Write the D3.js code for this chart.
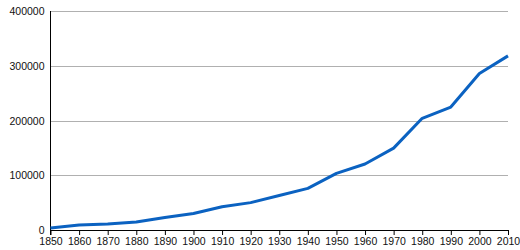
<!DOCTYPE html>
<html>
<head>
<meta charset="utf-8">
<title>Population</title>
<script src="https://d3js.org/d3.v7.min.js"></script>
<style>
  body { margin: 0; background: #fff; }
  text { font-family: "Liberation Sans", Arial, sans-serif; font-size: 10.5px; fill: #111; }
</style>
</head>
<body>
<svg id="chart" width="520" height="250"></svg>
<script>
// data
var years = [1850, 1860, 1870, 1880, 1890, 1900, 1910, 1920, 1930, 1940, 1950, 1960, 1970, 1980, 1990, 2000, 2010];
var population = [3500, 9000, 11000, 14500, 23000, 30000, 42500, 50000, 63000, 76000, 103500, 120500, 149500, 204000, 224500, 286000, 318000];
var yTicks = [0, 100000, 200000, 300000, 400000];

var svg = d3.select('#chart');
var margin = { top: 11, right: 12, bottom: 20, left: 50.5 };
var width = 520 - margin.left - margin.right,
    height = 250 - margin.top - margin.bottom;

var x = d3.scaleLinear().domain([1850, 2010]).range([0, width]);
var y = d3.scaleLinear().domain([0, 400000]).range([height, 0]);

var g = svg.append('g').attr('transform', 'translate(' + margin.left + ',' + margin.top + ')');

// gridlines
g.selectAll('.grid')
  .data(yTicks.filter(function (d) { return d > 0; }))
  .enter().append('line')
  .attr('x1', 0).attr('x2', width)
  .attr('y1', function (d) { return Math.round(y(d)) + 0.5; })
  .attr('y2', function (d) { return Math.round(y(d)) + 0.5; })
  .attr('stroke', '#b0b0b0').attr('stroke-width', 1);

// y labels
g.selectAll('.ylab')
  .data(yTicks)
  .enter().append('text')
  .attr('x', -6)
  .attr('y', function (d) { return y(d) + 4; })
  .attr('text-anchor', 'end')
  .text(function (d) { return d; });

// x axis
var xAxis = d3.axisBottom(x).tickValues(years).tickFormat(d3.format('d')).tickSize(5).tickSizeOuter(0);
var ax = g.append('g').attr('transform', 'translate(0,' + height + ')').call(xAxis);
ax.select('.domain').attr('stroke', '#000');
ax.selectAll('.tick line').attr('stroke', '#000');
ax.selectAll('.tick text').attr('dy', '0.95em').attr('y', 5)
  .style('font-family', '"Liberation Sans", Arial, sans-serif').style('font-size', '10.5px').style('fill', '#111');

// y axis line
g.append('line').attr('x1', 0).attr('x2', 0).attr('y1', 0).attr('y2', height + 5)
  .attr('stroke', '#000');

// data line
var line = d3.line()
  .x(function (d, i) { return x(years[i]); })
  .y(function (d) { return y(d); });

g.append('path')
  .datum(population)
  .attr('d', line)
  .attr('fill', 'none')
  .attr('stroke', '#0b62c1')
  .attr('stroke-width', 3)
  .attr('stroke-linejoin', 'round');
</script>
</body>
</html>
